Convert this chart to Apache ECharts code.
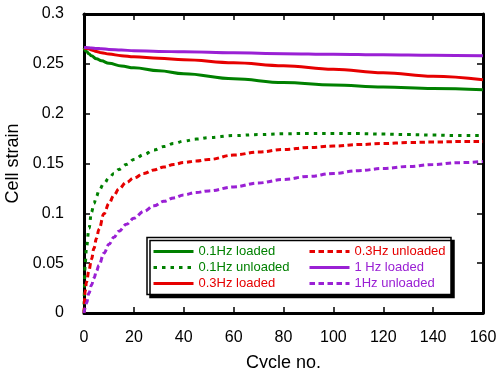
<!DOCTYPE html>
<html>
<head>
<meta charset="utf-8">
<script src="https://cdn.jsdelivr.net/npm/echarts@6/dist/echarts.min.js"></script>
<style>
html,body{margin:0;padding:0;background:#fff;}
#chart{width:497px;height:368px;}
</style>
</head>
<body>
<div id="chart"></div>
<script>
// ---- data ----
const cyclesLoaded   = [0, 1, 2, 3, 5, 7, 10, 15, 20, 30, 40, 60, 80, 100, 120, 140, 160];
const hz01Loaded     = [0.266, 0.2625, 0.2600, 0.2580, 0.2550, 0.2530, 0.2505, 0.2478, 0.2460, 0.2430, 0.2400, 0.2350, 0.2312, 0.2288, 0.2268, 0.2252, 0.2240];
const hz03Loaded     = [0.266, 0.2655, 0.2648, 0.2640, 0.2625, 0.2612, 0.2598, 0.2582, 0.2570, 0.2555, 0.2540, 0.2510, 0.2480, 0.2445, 0.2410, 0.2375, 0.2340];
const hz1Loaded      = [0.2665, 0.2663, 0.2661, 0.2659, 0.2655, 0.2651, 0.2645, 0.2638, 0.2632, 0.2625, 0.2620, 0.2610, 0.2602, 0.2596, 0.2590, 0.2585, 0.2580];

const cyclesUnloaded = [0, 0.5, 1, 2, 3, 4, 5, 6, 8, 10, 12, 14, 17, 20, 24, 28, 32, 36, 40, 45, 50, 60, 70, 80, 90, 100, 110, 120, 130, 140, 150, 160];
const hz01Unloaded   = [0,0.050,0.066,0.085,0.101,0.110,0.117,0.123,0.130,0.1355,0.140,0.144,0.149,0.154,0.159,0.1635,0.167,0.170,0.1725,0.1745,0.176,0.178,0.179,0.1798,0.1802,0.1802,0.180,0.1795,0.179,0.1785,0.178,0.178];
const hz03Unloaded   = [0,0.022,0.031,0.043,0.054,0.065,0.075,0.084,0.0995,0.110,0.118,0.1245,0.131,0.1355,0.140,0.1435,0.1465,0.149,0.151,0.1525,0.154,0.1585,0.1615,0.164,0.166,0.1675,0.169,0.170,0.171,0.1715,0.172,0.172];
const hz1Unloaded    = [0,0.005,0.010,0.020,0.028,0.035,0.042,0.048,0.060,0.069,0.076,0.082,0.089,0.095,0.102,0.1075,0.112,0.1155,0.1185,0.121,0.1225,0.1265,0.1305,0.134,0.137,0.140,0.1428,0.145,0.147,0.149,0.1508,0.152];

const seriesNames = ['0.1Hz loaded','0.1Hz unloaded','0.3Hz loaded','0.3Hz unloaded','1 Hz loaded','1Hz unloaded'];
const xTitle = 'Cycle no.';
const yTitle = 'Cell strain';

const GREEN = '#008000', RED = '#e60000', PURPLE = '#9a20d4';
const FONT = 'Liberation Sans, Arial, sans-serif';

function pairs(xs, vals){ return xs.map((c,i)=>[c, vals[i]]); }

function mk(name, xs, vals, color, type){
  return {
    name: name, type: 'line', data: pairs(xs, vals), symbol: 'none',
    smooth: 0.4, smoothMonotone: 'x',
    lineStyle: {color: color, width: 3, type: type},
    itemStyle: {color: color},
    xAxisIndex: 0, yAxisIndex: 0
  };
}

const chart = echarts.init(document.getElementById('chart'), null, {renderer: 'canvas'});

const axisLine = {show: true, onZero: false, lineStyle: {color: '#000', width: 3}};
const tick = {show: true, inside: true, length: 6, lineStyle: {color: '#000', width: 1.5}};

const legendCommon = {
  orient: 'vertical', itemWidth: 40, itemHeight: 14, itemGap: 3, padding: 0,
  textStyle: {fontSize: 13, fontFamily: FONT},
  lineStyle: {width: 3},
  itemStyle: {opacity: 0}
};

chart.setOption({
  animation: false,
  backgroundColor: '#fff',
  grid: {left: 84, top: 14, width: 399, height: 299, containLabel: false, outerBoundsMode: 'none'},
  xAxis: [
    {type: 'value', position: 'bottom', min: 0, max: 160, interval: 20,
     axisLine: axisLine, axisTick: tick, splitLine: {show: false},
     axisLabel: {color: '#000', fontSize: 16, fontFamily: FONT, margin: 17},
     name: xTitle, nameLocation: 'middle', nameGap: 41,
     nameTextStyle: {color: '#000', fontSize: 18, fontFamily: FONT}},
    {type: 'value', position: 'top', min: 0, max: 160, interval: 20,
     axisLine: axisLine, axisTick: tick, splitLine: {show: false},
     axisLabel: {show: false}}
  ],
  yAxis: [
    {type: 'value', position: 'left', min: 0, max: 0.3, interval: 0.05,
     axisLine: axisLine, axisTick: tick, splitLine: {show: false},
     axisLabel: {color: '#000', fontSize: 16, fontFamily: FONT, margin: 20},
     name: yTitle, nameLocation: 'middle', nameGap: 46, nameRotate: 90,
     nameTextStyle: {color: '#000', fontSize: 18, fontFamily: FONT}},
    {type: 'value', position: 'right', min: 0, max: 0.3, interval: 0.05,
     axisLine: axisLine, axisTick: tick, splitLine: {show: false},
     axisLabel: {show: false}}
  ],
  graphic: [{
    type: 'rect', z: 50,
    shape: {x: 147, y: 237.5, width: 304, height: 57},
    style: {fill: '#fff', stroke: '#000', lineWidth: 1.5,
            shadowColor: '#000', shadowOffsetX: 3, shadowOffsetY: 3, shadowBlur: 0}
  }],
  legend: [
    Object.assign({}, legendCommon, {
      left: 152, top: 245, z: 60,
      data: [
        {name: seriesNames[0], textStyle: {color: GREEN}},
        {name: seriesNames[1], textStyle: {color: GREEN}},
        {name: seriesNames[2], textStyle: {color: RED}}
      ]
    }),
    Object.assign({}, legendCommon, {
      left: 308, top: 245, z: 60,
      data: [
        {name: seriesNames[3], textStyle: {color: RED}},
        {name: seriesNames[4], textStyle: {color: PURPLE}},
        {name: seriesNames[5], textStyle: {color: PURPLE}}
      ]
    })
  ],
  series: [
    mk(seriesNames[0], cyclesLoaded, hz01Loaded, GREEN, 'solid'),
    mk(seriesNames[1], cyclesUnloaded, hz01Unloaded, GREEN, [3.5, 5]),
    mk(seriesNames[2], cyclesLoaded, hz03Loaded, RED, 'solid'),
    mk(seriesNames[3], cyclesUnloaded, hz03Unloaded, RED, [5.5, 3.5]),
    mk(seriesNames[4], cyclesLoaded, hz1Loaded, PURPLE, 'solid'),
    mk(seriesNames[5], cyclesUnloaded, hz1Unloaded, PURPLE, [5.5, 3.5])
  ]
});
</script>
</body>
</html>
